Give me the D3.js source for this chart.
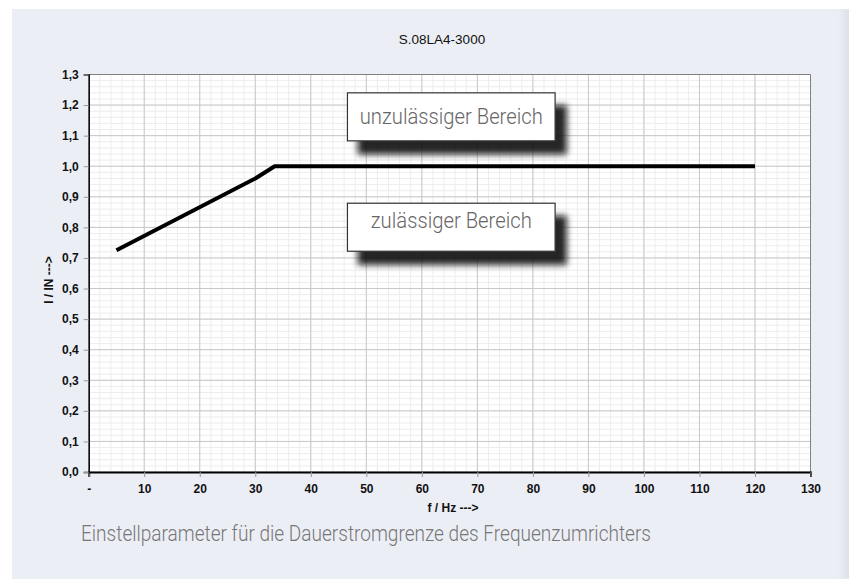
<!DOCTYPE html>
<html><head><meta charset="utf-8">
<script src="https://cdn.jsdelivr.net/npm/d3@7/dist/d3.min.js"></script>
<style>
html,body{margin:0;padding:0;background:#fff;}
svg{display:block;}
</style></head>
<body>
<script>
// ---- data ----
const freq = [5, 30, 33.5, 120];
const current = [0.725, 0.96, 1.0, 1.0];
const xTicks = [0, 10, 20, 30, 40, 50, 60, 70, 80, 90, 100, 110, 120, 130];
const yTicks = [0, 0.1, 0.2, 0.3, 0.4, 0.5, 0.6, 0.7, 0.8, 0.9, 1.0, 1.1, 1.2, 1.3];
const title = "S.08LA4-3000";
const xLabel = "f / Hz --->";
const yLabel = "I / IN --->";
const caption = "Einstellparameter für die Dauerstromgrenze des Frequenzumrichters";
const boxLabels = ["unzulässiger Bereich", "zulässiger Bereich"];
const boxX = [[46.6, 84.0], [46.6, 84.0]];
const boxY = [[1.24, 1.083], [0.879, 0.722]];

const W = 849, H = 579;
const L = 88.7, R = 810.5, T = 74.5, B = 472;

const svg = d3.select("body").append("svg").attr("width", W).attr("height", H);
const defs = svg.append("defs");
const f = defs.append("filter").attr("id", "sh").attr("x", "-20%").attr("y", "-30%").attr("width", "150%").attr("height", "180%");
f.append("feDropShadow").attr("dx", 11).attr("dy", 13).attr("stdDeviation", 3.2)
  .attr("flood-color", "#111").attr("flood-opacity", 0.9);
const g2 = defs.append("linearGradient").attr("id", "edge").attr("x1", 0).attr("x2", 1);
g2.append("stop").attr("offset", 0).attr("stop-color", "#eceef6");
g2.append("stop").attr("offset", 1).attr("stop-color", "#dfe1e8");

// panel
svg.append("rect").attr("x", 12).attr("y", 9).attr("width", W - 12).attr("height", H - 9).attr("fill", "#eceef6");
svg.append("rect").attr("x", 838).attr("y", 9).attr("width", 11).attr("height", H - 9).attr("fill", "url(#edge)");

const x = d3.scaleLinear().domain([0, 130]).range([L, R]);
const y = d3.scaleLinear().domain([0, 1.3]).range([B, T]);

// plot background
svg.append("rect").attr("x", L).attr("y", T).attr("width", R - L).attr("height", B - T).attr("fill", "#fff");

// minor grid
const xMinor = d3.range(0, 130.001, 2);
const yMinor = d3.range(0, 1.3001, 0.02);
svg.append("g").selectAll("line").data(xMinor).join("line")
  .attr("x1", d => x(d)).attr("x2", d => x(d)).attr("y1", T).attr("y2", B)
  .attr("stroke", "#ededed").attr("stroke-width", 1);
svg.append("g").selectAll("line").data(yMinor).join("line")
  .attr("x1", L).attr("x2", R).attr("y1", d => y(d)).attr("y2", d => y(d))
  .attr("stroke", "#ededed").attr("stroke-width", 1);
// major grid
svg.append("g").selectAll("line").data(xTicks).join("line")
  .attr("x1", d => x(d)).attr("x2", d => x(d)).attr("y1", T).attr("y2", B)
  .attr("stroke", "#c8c8c8").attr("stroke-width", 1);
svg.append("g").selectAll("line").data(yTicks).join("line")
  .attr("x1", L).attr("x2", R).attr("y1", d => y(d)).attr("y2", d => y(d))
  .attr("stroke", "#c8c8c8").attr("stroke-width", 1);

// frame top/right
svg.append("line").attr("x1", L).attr("x2", R).attr("y1", T).attr("y2", T).attr("stroke", "#808080");
svg.append("line").attr("x1", R).attr("x2", R).attr("y1", T).attr("y2", B).attr("stroke", "#808080");

// axes
const xAxis = d3.axisBottom(x).tickValues(xTicks).tickSize(5).tickPadding(7)
  .tickFormat(d => d === 0 ? "-" : d3.format("d")(d));
const gx = svg.append("g").attr("transform", `translate(0,${B})`).call(xAxis);
gx.select(".domain").attr("stroke", "#000").attr("stroke-width", 2);
gx.selectAll(".tick line").attr("stroke", "#999");
gx.selectAll("text").attr("font-family", "Liberation Sans, Arial, sans-serif").attr("font-size", 12)
  .attr("font-weight", "bold").attr("fill", "#111");

const yAxis = d3.axisLeft(y).tickValues(yTicks).tickSize(5).tickPadding(5)
  .tickFormat(d => d3.format(".1f")(d).replace(".", ","));
const gy = svg.append("g").attr("transform", `translate(${L},0)`).call(yAxis);
gy.select(".domain").attr("stroke", "#000").attr("stroke-width", 1.5);
gy.selectAll(".tick line").attr("stroke", "#999");
gy.selectAll("text").attr("font-family", "Liberation Sans, Arial, sans-serif").attr("font-size", 12)
  .attr("font-weight", "bold").attr("fill", "#111");

// line
const pts = freq.map((d, i) => [d, current[i]]);
svg.append("path").datum(pts)
  .attr("d", d3.line().x(d => x(d[0])).y(d => y(d[1])))
  .attr("fill", "none").attr("stroke", "#000").attr("stroke-width", 4).attr("stroke-linejoin", "round");

// annotation boxes
boxLabels.forEach((lab, i) => {
  const x0 = x(boxX[i][0]), x1 = x(boxX[i][1]);
  const y0 = y(boxY[i][0]), y1 = y(boxY[i][1]);
  svg.append("rect").attr("x", x0).attr("y", y0).attr("width", x1 - x0).attr("height", y1 - y0)
    .attr("fill", "#fff").attr("stroke", "#333").attr("stroke-width", 1.2).attr("filter", "url(#sh)");
  svg.append("text").attr("x", (x0 + x1) / 2).attr("y", i === 0 ? y0 + 31 : y0 + 25)
    .attr("text-anchor", "middle").attr("font-family", "Roboto, sans-serif").attr("font-weight", 300)
    .attr("font-size", 22).attr("fill", "#666")
    .attr("textLength", i === 0 ? 183 : 161).attr("lengthAdjust", "spacingAndGlyphs").text(lab);
});

// title, labels
svg.append("text").attr("x", 442).attr("y", 44).attr("text-anchor", "middle")
  .attr("font-family", "Liberation Sans, Arial, sans-serif").attr("font-size", 13.5).attr("fill", "#111").text(title);
svg.append("text").attr("x", 453).attr("y", 512).attr("text-anchor", "middle")
  .attr("font-family", "Liberation Sans, Arial, sans-serif").attr("font-size", 12).attr("font-weight", "bold")
  .attr("fill", "#111").text(xLabel);
svg.append("text").attr("transform", "translate(53,280) rotate(-90)").attr("text-anchor", "middle")
  .attr("font-family", "Liberation Sans, Arial, sans-serif").attr("font-size", 12).attr("font-weight", "bold")
  .attr("fill", "#111").text(yLabel);
svg.append("text").attr("x", 81).attr("y", 541)
  .attr("font-family", "Roboto, sans-serif").attr("font-weight", 300).attr("font-size", 22).attr("fill", "#777")
  .attr("textLength", 570).attr("lengthAdjust", "spacingAndGlyphs").text(caption);
</script>
</body></html>
